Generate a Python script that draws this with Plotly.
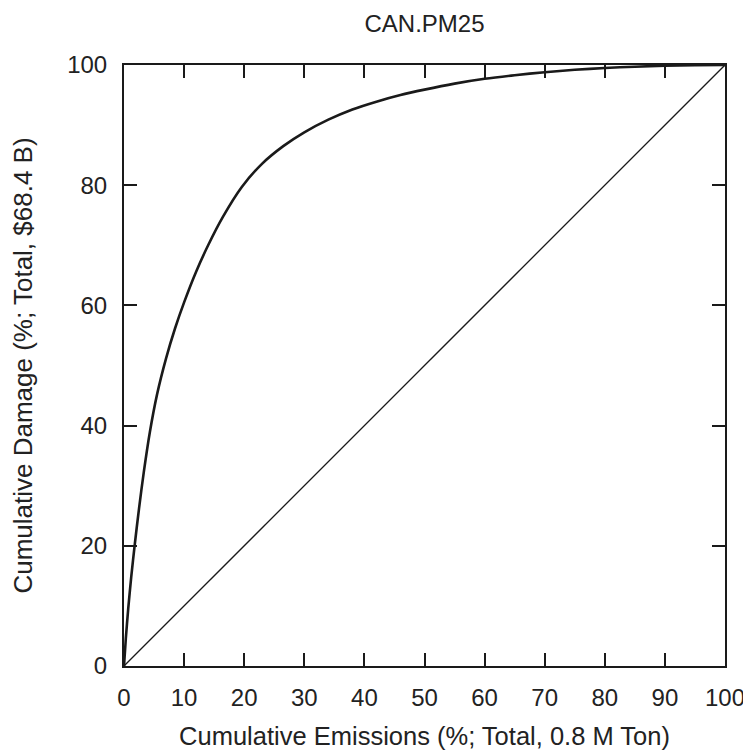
import plotly.graph_objects as go

emissions_pct = [0, 0.3, 0.7, 1.2, 1.8, 2.5, 3.3, 4.3, 5.5, 7, 8.5, 10, 12, 14, 16.5, 19.6, 23, 26.5,
                 30, 34, 38, 42, 46, 50, 55, 60, 65, 70, 75, 80, 85, 90, 95, 100]
damage_pct = [0, 4.5, 9.5, 14.8, 20.3, 26.2, 32.3, 38.9, 45.2, 51.2, 56.2, 60.5, 65.6, 70, 74.8, 79.7, 83.6, 86.5,
              88.8, 90.9, 92.6, 93.9, 95, 95.9, 96.9, 97.7, 98.3, 98.8, 99.2, 99.5, 99.72, 99.87, 99.96, 100]
diag = [0, 100]
tick_vals = [0, 10, 20, 30, 40, 50, 60, 70, 80, 90, 100]
ytick_vals = [0, 20, 40, 60, 80, 100]

FAM = "Liberation Sans, Arial, sans-serif"
INK = "#1a1a1a"

fig = go.Figure()
fig.add_trace(go.Scatter(x=diag, y=diag, mode="lines",
                         line=dict(color=INK, width=1.3), showlegend=False))
fig.add_trace(go.Scatter(x=emissions_pct, y=damage_pct, mode="lines",
                         line=dict(color=INK, width=2.6, shape="spline", smoothing=0.8),
                         showlegend=False))

fig.update_layout(
    width=751, height=755,
    margin=dict(l=116, r=34, t=57, b=97),
    plot_bgcolor="white", paper_bgcolor="white",
    font=dict(family=FAM, size=24, color="#222"),
    title=dict(text="CAN.PM25", x=0.5546, xanchor="center", y=0.979, yanchor="middle",
               font=dict(family=FAM, size=24, color="#222")),
    xaxis=dict(range=[0, 100], tickvals=tick_vals, showgrid=False, zeroline=False,
               showline=True, linecolor=INK, linewidth=2, mirror="ticks",
               ticks="inside", ticklen=13, tickcolor=INK, tickwidth=1.5,
               tickfont=dict(size=24),
               title=dict(text="Cumulative Emissions (%; Total, 0.8 M Ton)", standoff=17,
                          font=dict(size=25.5)),
               ticklabelstandoff=9),
    yaxis=dict(range=[0, 100], tickvals=ytick_vals, showgrid=False, zeroline=False,
               showline=True, linecolor=INK, linewidth=2, mirror="ticks",
               ticks="inside", ticklen=13, tickcolor=INK, tickwidth=1.5,
               tickfont=dict(size=24),
               title=dict(text="Cumulative Damage (%; Total, $68.4 B)", standoff=27,
                          font=dict(size=26)),
               ticklabelstandoff=10),
)
fig.write_html("out.html")
